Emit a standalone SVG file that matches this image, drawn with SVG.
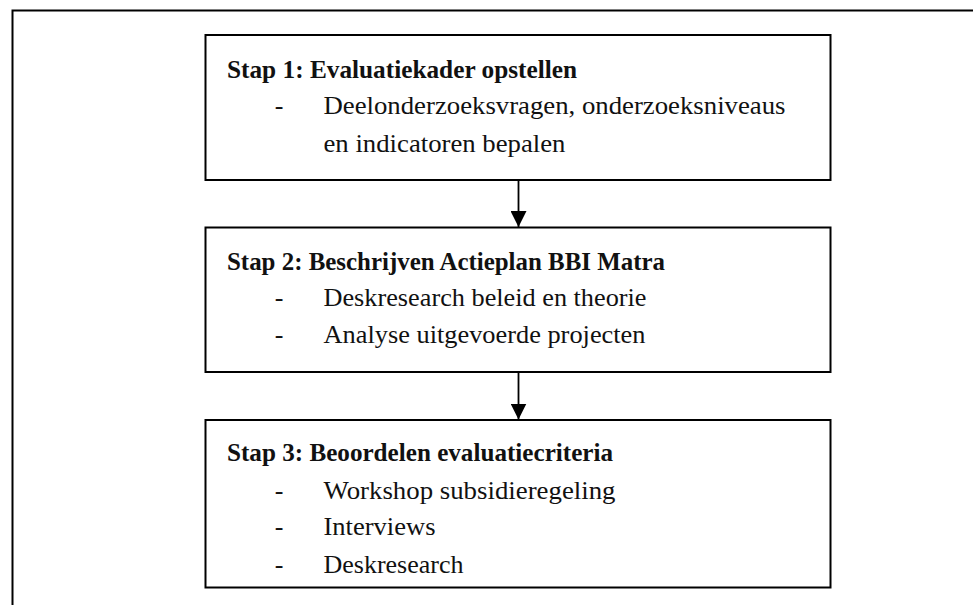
<svg xmlns="http://www.w3.org/2000/svg" width="973" height="605" viewBox="0 0 973 605">
<defs>
<style>
.box{fill:#fff;stroke:#000;stroke-width:2}
.t{font-family:"Liberation Serif","Times New Roman",serif;font-size:26px;fill:#111}
.b{font-weight:bold}
.dash{text-anchor:middle}
.conn line{stroke:#000;stroke-width:1.8}
</style>
<marker id="ah" viewBox="0 0 16 16" refX="16" refY="8" markerWidth="16" markerHeight="16" markerUnits="userSpaceOnUse" orient="auto">
<path d="M0,0 L16,8 L0,16 Z" fill="#000"/>
</marker>
</defs>
<rect width="973" height="605" fill="#fff"/>
<path d="M12.5,610 V10.5 H980" fill="none" stroke="#000" stroke-width="2"/>
<g id="stap1">
<rect class="box" x="205.5" y="35" width="625" height="145"/>
<text class="t b" x="227" y="78" textLength="350" lengthAdjust="spacingAndGlyphs">Stap 1: Evaluatiekader opstellen</text>
<text class="t dash" x="279" y="114">-</text>
<text class="t" x="323.5" y="114" textLength="462" lengthAdjust="spacingAndGlyphs">Deelonderzoeksvragen, onderzoeksniveaus</text>
<text class="t" x="323.5" y="151.5" textLength="242" lengthAdjust="spacingAndGlyphs">en indicatoren bepalen</text>
</g>
<g id="stap2">
<rect class="box" x="205.5" y="227.5" width="625" height="144.5"/>
<text class="t b" x="227" y="269.5" textLength="438" lengthAdjust="spacingAndGlyphs">Stap 2: Beschrijven Actieplan BBI Matra</text>
<text class="t dash" x="279" y="305.5">-</text>
<text class="t" x="323.5" y="305.5" textLength="323" lengthAdjust="spacingAndGlyphs">Deskresearch beleid en theorie</text>
<text class="t dash" x="279" y="342.5">-</text>
<text class="t" x="323.5" y="342.5" textLength="322" lengthAdjust="spacingAndGlyphs">Analyse uitgevoerde projecten</text>
</g>
<g id="stap3">
<rect class="box" x="205.5" y="420" width="625" height="167.5"/>
<text class="t b" x="227" y="461" textLength="386" lengthAdjust="spacingAndGlyphs">Stap 3: Beoordelen evaluatiecriteria</text>
<text class="t dash" x="279" y="498.5">-</text>
<text class="t" x="323.5" y="498.5" textLength="292" lengthAdjust="spacingAndGlyphs">Workshop subsidieregeling</text>
<text class="t dash" x="279" y="535">-</text>
<text class="t" x="323.5" y="535" textLength="112" lengthAdjust="spacingAndGlyphs">Interviews</text>
<text class="t dash" x="279" y="572.5">-</text>
<text class="t" x="323.5" y="572.5" textLength="140" lengthAdjust="spacingAndGlyphs">Deskresearch</text>
</g>
<g id="connectors" class="conn">
<line x1="518.5" y1="181" x2="518.5" y2="227" marker-end="url(#ah)"/>
<line x1="518.5" y1="373" x2="518.5" y2="419.5" marker-end="url(#ah)"/>
</g>
</svg>
